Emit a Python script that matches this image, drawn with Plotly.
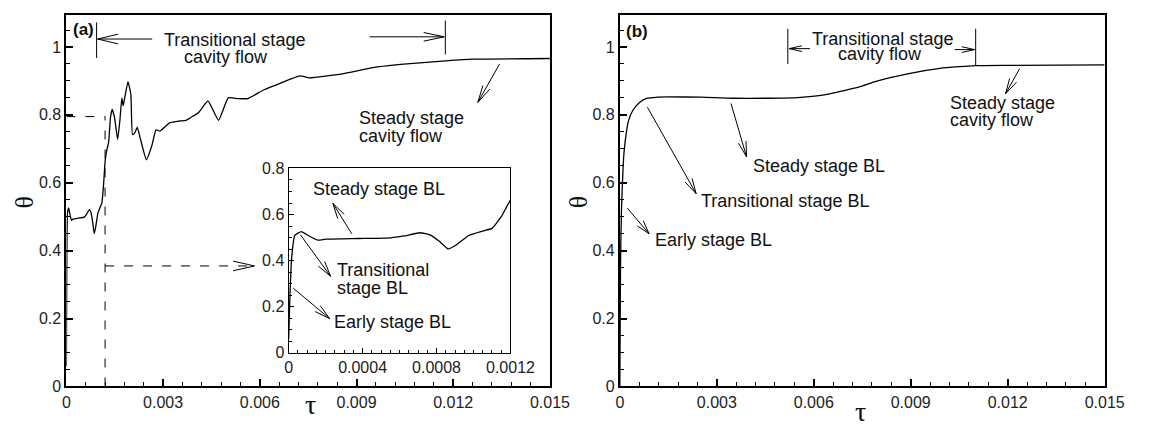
import math
import plotly.graph_objects as go

W, H = 1155, 432

# ---------------- data ----------------
tau_a = [0, 0.000007, 0.000016, 0.000033, 0.000069, 0.000104, 0.000157, 0.000201,
         0.000377, 0.000554, 0.000624, 0.000712, 0.000765, 0.000818, 0.000862,
         0.000906, 0.000976, 0.001047, 0.0011, 0.001152, 0.0012,
         0.00125, 0.00131, 0.00137, 0.00142, 0.00149, 0.00159, 0.00166, 0.00172,
         0.00176, 0.00181, 0.00191, 0.00200, 0.00205, 0.00212, 0.00220, 0.00230,
         0.00248, 0.00265, 0.00278, 0.00290, 0.00321, 0.00351, 0.00371, 0.00411,
         0.00439, 0.00472, 0.00502, 0.00532, 0.00562, 0.00613, 0.00663, 0.00724,
         0.00754, 0.00855, 0.00956, 0.01056, 0.01177, 0.01258, 0.015]
theta_a = [0.06, 0.25, 0.41, 0.51, 0.526, 0.51, 0.489, 0.493,
           0.496, 0.499, 0.507, 0.521, 0.512, 0.482, 0.451,
           0.468, 0.51, 0.528, 0.54, 0.593, 0.662,
           0.695, 0.719, 0.794, 0.816, 0.794, 0.728, 0.784, 0.85,
           0.827, 0.85, 0.898, 0.86, 0.742, 0.747, 0.763, 0.728,
           0.668, 0.709, 0.756, 0.752, 0.777, 0.782, 0.784, 0.808,
           0.841, 0.784, 0.85, 0.848, 0.848, 0.874, 0.893, 0.915,
           0.909, 0.921, 0.94, 0.95, 0.959, 0.964, 0.966]

tau_b = [0, 0.00002, 0.00005, 0.0001, 0.00013, 0.0002, 0.00027, 0.0004, 0.0006,
         0.00085, 0.00116, 0.0015, 0.0025, 0.0035, 0.0045, 0.0055, 0.0065, 0.0069,
         0.0075, 0.0079, 0.0089, 0.0099, 0.0105, 0.011, 0.012, 0.015]
theta_b = [0.0, 0.35, 0.52, 0.643, 0.69, 0.747, 0.784, 0.813, 0.836,
           0.849, 0.852, 0.853, 0.852, 0.849, 0.849, 0.851, 0.862, 0.871,
           0.885, 0.898, 0.921, 0.937, 0.942, 0.945, 0.946, 0.947]

main_xticks = [0, 0.003, 0.006, 0.009, 0.012, 0.015]
main_xlabels = ["0", "0.003", "0.006", "0.009", "0.012", "0.015"]
main_yticks = [0, 0.2, 0.4, 0.6, 0.8, 1.0]
main_ylabels = ["0", "0.2", "0.4", "0.6", "0.8", "1"]
inset_xticks = [0, 0.0004, 0.0008, 0.0012]
inset_xlabels = ["0", "0.0004", "0.0008", "0.0012"]
inset_yticks = [0, 0.2, 0.4, 0.6, 0.8]
inset_ylabels = ["0", "0.2", "0.4", "0.6", "0.8"]

# zoom window marked on panel (a)
zoom_tau = 0.0012
zoom_theta = 0.795
pointer_theta = 0.355

# ---------------- helpers ----------------
FONT = "Liberation Sans, Arial, sans-serif"
SERIF = "Liberation Serif, Times New Roman, serif"
shapes = []
annotations = []


def seg(x0, y0, x1, y1, dash="solid", width=1.0):
    shapes.append(dict(type="line", xref="paper", yref="paper",
                       x0=x0 / W, y0=1 - y0 / H, x1=x1 / W, y1=1 - y1 / H,
                       line=dict(color="black", width=width, dash=dash)))


def arrow(tx, ty, hx, hy, L=16, hw=4.0, dash="solid"):
    seg(tx, ty, hx, hy, dash)
    d = math.hypot(hx - tx, hy - ty)
    ux, uy = (hx - tx) / d, (hy - ty) / d
    bx, by = hx - L * ux, hy - L * uy
    nx, ny = -uy, ux
    seg(bx + hw * nx, by + hw * ny, hx, hy)
    seg(bx - hw * nx, by - hw * ny, hx, hy)


def label(text, px, py, xanchor="left", size=18, bold=False, family=FONT, angle=0):
    annotations.append(dict(text=("<b>%s</b>" % text) if bold else text,
                            x=px / W, y=1 - py / H, xref="paper", yref="paper",
                            xanchor=xanchor, yanchor="middle", showarrow=False,
                            textangle=angle,
                            font=dict(family=family, size=size, color="#111")))


# ---------------- figure ----------------
fig = go.Figure()
line_a = dict(color="black", width=1.3, shape="spline", smoothing=0.4)
fig.add_trace(go.Scatter(x=tau_a, y=theta_a, mode="lines", line=line_a,
                         xaxis="x", yaxis="y", hoverinfo="skip"))
fig.add_trace(go.Scatter(x=tau_b, y=theta_b, mode="lines",
                         line=dict(color="black", width=1.3, shape="spline", smoothing=0.6),
                         xaxis="x2", yaxis="y2", hoverinfo="skip"))
fig.add_trace(go.Scatter(x=tau_a, y=theta_a, mode="lines", line=line_a,
                         xaxis="x3", yaxis="y3", hoverinfo="skip"))

tickfont = dict(family=FONT, size=16, color="#222")


def make_axis(domain, rng, tv, tt, minor_dtick, anchor, lw, tl, mtl):
    return dict(domain=domain, range=rng, autorange=False, anchor=anchor,
                showline=True, linecolor="black", linewidth=lw, mirror=True,
                ticks="inside", ticklen=tl, tickwidth=lw, tickcolor="black",
                tickmode="array", tickvals=tv, ticktext=tt, tickfont=tickfont,
                showgrid=False, zeroline=False,
                minor=dict(dtick=minor_dtick, tick0=0, ticks="inside",
                           ticklen=mtl, tickwidth=1, tickcolor="black"))


ydom = [1 - 394 / H, 1 - 7 / H]
fig.update_layout(
    width=W, height=H, margin=dict(l=0, r=0, t=0, b=0),
    paper_bgcolor="white", plot_bgcolor="white", showlegend=False,
    xaxis=make_axis([64 / W, 560 / W], [0, 0.015], main_xticks, main_xlabels, 0.0006, "y", 2, 7, 4),
    yaxis=make_axis(ydom, [0, 1.095], main_yticks, main_ylabels, 0.05, "x", 2, 7, 4),
    xaxis2=make_axis([631.7 / W, 1129 / W], [0, 0.015], main_xticks, main_xlabels, 0.0006, "y2", 2, 7, 4),
    yaxis2=make_axis(ydom, [0, 1.095], main_yticks, main_ylabels, 0.05, "x2", 2, 7, 4),
    xaxis3=make_axis([292 / W, 519.5 / W], [0, 0.0012], inset_xticks, inset_xlabels, 0.00005, "y3", 1.2, 5, 3),
    yaxis3=make_axis([1 - 359 / H, 1 - 167 / H], [0, 0.8], inset_yticks, inset_ylabels, 0.05, "x3", 1.2, 5, 3),
)

# dashed zoom-window lines (data coordinates of panel a)
dash = "9px,10px"
shapes.append(dict(type="line", xref="x", yref="y", x0=zoom_tau, x1=zoom_tau, y0=0, y1=zoom_theta,
                   line=dict(color="black", width=1, dash=dash)))
shapes.append(dict(type="line", xref="x", yref="y", x0=0, x1=zoom_tau, y0=zoom_theta, y1=zoom_theta,
                   line=dict(color="black", width=1, dash=dash)))
# dashed pointer to the inset
px0 = 64 + zoom_tau / 0.015 * 496
py0 = 394 - pointer_theta * 353.5
arrow(px0, py0, 257, py0, L=22, hw=5, dash=dash)

# ---- panel (a) annotations ----
label("(a)", 69, 22, size=17, bold=True)
seg(95, 15, 95, 52)
arrow(152, 32.3, 96, 32.3, L=21, hw=5)
label("Transitional stage", 236, 33, xanchor="center")
label("cavity flow", 228, 51, xanchor="center")
seg(452.7, 13, 452.7, 48.3)
arrow(375, 30, 451.5, 30, L=21, hw=4.5)
label("Steady stage", 362, 115)
label("cavity flow", 362, 133)
arrow(508.3, 58.3, 486, 98.3, L=18, hw=4)
# inset annotations
label("Steady stage BL", 315, 188.5)
arrow(356.7, 235, 337.3, 203.3, L=16, hw=4)
label("Transitional", 340, 272.5)
label("stage BL", 340, 291.5)
arrow(304, 236, 335, 279.3, L=16, hw=4)
label("Early stage BL", 336.7, 327)
arrow(296.7, 291.7, 334, 323.3, L=16, hw=4)

# ---- panel (b) annotations ----
label("(b)", 636, 24, size=17, bold=True)
seg(804, 21.7, 804, 58.3)
arrow(826.7, 42.3, 805.5, 42.3, L=13, hw=3)
label("Transitional stage", 900.8, 32, xanchor="center")
label("cavity flow", 898.5, 48, xanchor="center")
arrow(975, 43.3, 995.5, 43.3, L=13, hw=3)
seg(996.7, 21.7, 996.7, 60)
label("Steady stage", 968.3, 99)
label("cavity flow", 968.3, 117)
arrow(1041.7, 63.3, 1027.3, 89.3, L=16, hw=4)
label("Steady stage BL", 766.7, 164)
arrow(745.7, 99.3, 761.7, 155, L=16, hw=4)
label("Transitional stage BL", 713.3, 201)
arrow(660, 103.3, 710, 193.3, L=16, hw=4)
label("Early stage BL", 666, 242)
arrow(639.3, 208.3, 661.7, 235, L=14, hw=4)

# ---- axis titles ----
label("θ", 21, 202, xanchor="center", size=26, family=SERIF, angle=-90)
label("θ", 589, 202, xanchor="center", size=26, family=SERIF, angle=-90)
label("τ", 314, 413, xanchor="center", size=28, family=SERIF)
label("τ", 879, 420, xanchor="center", size=28, family=SERIF)

fig.update_layout(shapes=shapes, annotations=annotations)
fig.write_html("out.html")
